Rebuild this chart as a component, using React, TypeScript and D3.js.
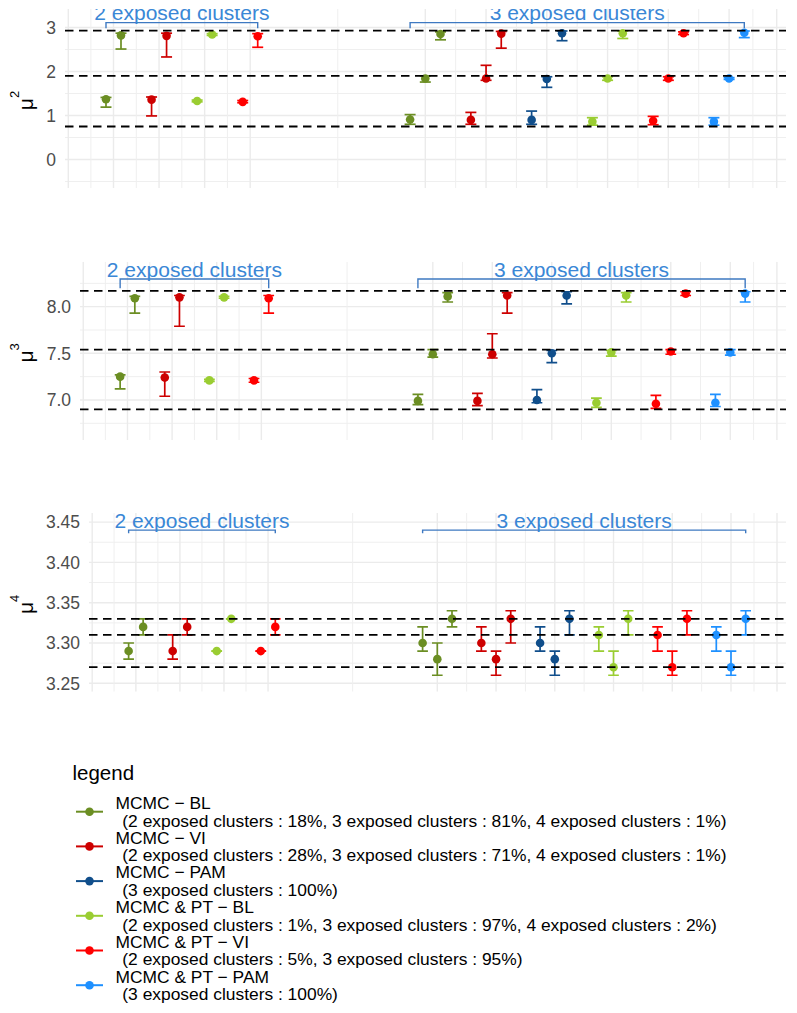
import React, { useEffect, useRef } from 'react';
import * as d3 from 'd3';

const methods = ['MCMC − BL', 'MCMC − VI', 'MCMC − PAM', 'MCMC & PT − BL', 'MCMC & PT − VI', 'MCMC & PT − PAM'];
const methodColors = ['#6B8E23', '#CD0000', '#104E8B', '#9ACD32', '#FF0000', '#1E90FF'];
const methodShares = [
  ' (2 exposed clusters : 18%, 3 exposed clusters : 81%, 4 exposed clusters : 1%)',
  ' (2 exposed clusters : 28%, 3 exposed clusters : 71%, 4 exposed clusters : 1%)',
  ' (3 exposed clusters : 100%)',
  ' (2 exposed clusters : 1%, 3 exposed clusters : 97%, 4 exposed clusters : 2%)',
  ' (2 exposed clusters : 5%, 3 exposed clusters : 95%)',
  ' (3 exposed clusters : 100%)',
];
const groupLabels = ['2 exposed clusters', '3 exposed clusters'];

// [method, exposed clusters, cluster, estimate, lower, upper]
type Row = [number, number, number, number, number, number];

const mu2Rows: Row[] = [
  [0, 2, 1, 1.37, 1.19, 1.41], [0, 2, 2, 2.82, 2.51, 2.87],
  [1, 2, 1, 1.36, 0.99, 1.42], [1, 2, 2, 2.81, 2.33, 2.87],
  [3, 2, 1, 1.33, 1.31, 1.35], [3, 2, 2, 2.84, 2.82, 2.86],
  [4, 2, 1, 1.31, 1.29, 1.34], [4, 2, 2, 2.80, 2.55, 2.86],
  [0, 3, 1, 0.91, 0.80, 1.02], [0, 3, 2, 1.84, 1.76, 1.90], [0, 3, 3, 2.85, 2.72, 2.90],
  [1, 3, 1, 0.90, 0.80, 1.07], [1, 3, 2, 1.84, 1.80, 2.14], [1, 3, 3, 2.86, 2.53, 2.91],
  [2, 3, 1, 0.90, 0.80, 1.10], [2, 3, 2, 1.83, 1.64, 1.88], [2, 3, 3, 2.87, 2.70, 2.92],
  [3, 3, 1, 0.86, 0.78, 0.95], [3, 3, 2, 1.84, 1.80, 1.88], [3, 3, 3, 2.87, 2.75, 2.92],
  [4, 3, 1, 0.88, 0.79, 0.98], [4, 3, 2, 1.84, 1.80, 1.88], [4, 3, 3, 2.87, 2.84, 2.90],
  [5, 3, 1, 0.86, 0.78, 0.95], [5, 3, 2, 1.84, 1.82, 1.86], [5, 3, 3, 2.88, 2.77, 2.92],
];

const mu3Rows: Row[] = [
  [0, 2, 1, 7.25, 7.12, 7.27], [0, 2, 2, 8.09, 7.93, 8.11],
  [1, 2, 1, 7.24, 7.04, 7.30], [1, 2, 2, 8.10, 7.79, 8.12],
  [3, 2, 1, 7.21, 7.20, 7.22], [3, 2, 2, 8.10, 8.09, 8.11],
  [4, 2, 1, 7.21, 7.19, 7.23], [4, 2, 2, 8.09, 7.93, 8.12],
  [0, 3, 1, 6.99, 6.95, 7.06], [0, 3, 2, 7.49, 7.46, 7.54], [0, 3, 3, 8.11, 8.05, 8.15],
  [1, 3, 1, 6.99, 6.94, 7.07], [1, 3, 2, 7.49, 7.45, 7.71], [1, 3, 3, 8.12, 7.93, 8.15],
  [2, 3, 1, 7.00, 6.97, 7.11], [2, 3, 2, 7.50, 7.40, 7.53], [2, 3, 3, 8.12, 8.03, 8.16],
  [3, 3, 1, 6.97, 6.92, 7.02], [3, 3, 2, 7.51, 7.47, 7.53], [3, 3, 3, 8.12, 8.05, 8.15],
  [4, 3, 1, 6.96, 6.91, 7.05], [4, 3, 2, 7.52, 7.49, 7.54], [4, 3, 3, 8.14, 8.12, 8.16],
  [5, 3, 1, 6.97, 6.93, 7.06], [5, 3, 2, 7.51, 7.48, 7.54], [5, 3, 3, 8.14, 8.05, 8.16],
];

const mu4Rows: Row[] = [
  [0, 2, 1, 3.29, 3.28, 3.30], [0, 2, 2, 3.32, 3.31, 3.33],
  [1, 2, 1, 3.29, 3.28, 3.31], [1, 2, 2, 3.32, 3.31, 3.33],
  [3, 2, 1, 3.29, 3.29, 3.29], [3, 2, 2, 3.33, 3.33, 3.33],
  [4, 2, 1, 3.29, 3.29, 3.29], [4, 2, 2, 3.32, 3.31, 3.33],
  [0, 3, 1, 3.30, 3.29, 3.32], [0, 3, 2, 3.28, 3.26, 3.30], [0, 3, 3, 3.33, 3.32, 3.34],
  [1, 3, 1, 3.30, 3.29, 3.32], [1, 3, 2, 3.28, 3.26, 3.29], [1, 3, 3, 3.33, 3.30, 3.34],
  [2, 3, 1, 3.30, 3.29, 3.32], [2, 3, 2, 3.28, 3.26, 3.29], [2, 3, 3, 3.33, 3.31, 3.34],
  [3, 3, 1, 3.31, 3.29, 3.32], [3, 3, 2, 3.27, 3.26, 3.29], [3, 3, 3, 3.33, 3.31, 3.34],
  [4, 3, 1, 3.31, 3.29, 3.32], [4, 3, 2, 3.27, 3.26, 3.29], [4, 3, 3, 3.33, 3.31, 3.34],
  [5, 3, 1, 3.31, 3.29, 3.32], [5, 3, 2, 3.27, 3.26, 3.29], [5, 3, 3, 3.33, 3.31, 3.34],
];

// true values (dashed reference lines)
const mu2Truth = [2.93, 1.9, 0.75];
const mu3Truth = [8.17, 7.54, 6.9];
const mu4Truth = [3.33, 3.31, 3.27];

const mu2Ticks = [0, 1, 2, 3];
const mu3Ticks = [7.0, 7.5, 8.0];
const mu4Ticks = [3.25, 3.3, 3.35, 3.4, 3.45];

// horizontal layout (dodge) in a shared x unit
const X_DOMAIN = [0, 721];
const PANEL_RIGHT = 786;
const groupLayout = {
  2: { center: 116.85, methods: [0, 1, 3, 4], step: 45.57, dodge: 15 },
  3: { center: 512.2, methods: [0, 1, 2, 3, 4, 5], step: 60.76, dodge: 15.2 },
};
const edgeBreaks = [3.3, 711.7];

const panels = [
  { rows: mu2Rows, truth: mu2Truth, ticks: mu2Ticks, fmt: d3.format('d'), sup: '2', left: 65, top: 9, bottom: 188, domain: [-0.648, 3.42], bracketY: 3.11, bracketTick: 0.13 },
  { rows: mu3Rows, truth: mu3Truth, ticks: mu3Ticks, fmt: d3.format('.1f'), sup: '3', left: 80, top: 261.7, bottom: 440, domain: [6.571, 8.482], bracketY: 8.297, bracketTick: 0.1 },
  { rows: mu4Rows, truth: mu4Truth, ticks: mu4Ticks, fmt: d3.format('.2f'), sup: '4', left: 89, top: 513, bottom: 691.7, domain: [3.2396, 3.4613], bracketY: 3.44, bracketTick: 0.0037 },
];

const FONT = "'Liberation Sans', Arial, Helvetica, sans-serif";

const xPos = (method: number, k: number, cluster: number) => {
  const lay = groupLayout[k];
  const slot = lay.methods.indexOf(method);
  return lay.center + (slot - (lay.methods.length - 1) / 2) * lay.step + (cluster - (k + 1) / 2) * lay.dodge;
};

const methodCenters = (k: number) => {
  const lay = groupLayout[k];
  return lay.methods.map((_, s) => lay.center + (s - (lay.methods.length - 1) / 2) * lay.step);
};

const App = () => {
  const svgRef = useRef<SVGSVGElement>(null);

  useEffect(() => {
    const svg = d3.select(svgRef.current);
    svg.selectAll('*').remove();
    const defs = svg.append('defs');

    panels.forEach((p, pi) => {
      const x = d3.scaleLinear().domain(X_DOMAIN).range([p.left, PANEL_RIGHT]);
      const y = d3.scaleLinear().domain(p.domain).range([p.bottom, p.top]);
      const clipId = `panel-clip-${pi}`;
      defs.append('clipPath').attr('id', clipId)
        .append('rect')
        .attr('x', p.left).attr('y', p.top)
        .attr('width', PANEL_RIGHT - p.left).attr('height', p.bottom - p.top);

      const g = svg.append('g').attr('clip-path', `url(#${clipId})`);

      // grid: y
      const step = p.ticks[1] - p.ticks[0];
      const yMinor: number[] = [];
      for (let v = p.ticks[0] - step / 2; v <= p.domain[1]; v += step) {
        if (v >= p.domain[0]) yMinor.push(v);
      }
      g.selectAll('.ymin').data(yMinor).enter().append('line')
        .attr('x1', p.left).attr('x2', PANEL_RIGHT)
        .attr('y1', (d) => y(d)).attr('y2', (d) => y(d))
        .attr('stroke', '#EFEFEF').attr('stroke-width', 1);
      g.selectAll('.ymaj').data(p.ticks).enter().append('line')
        .attr('x1', p.left).attr('x2', PANEL_RIGHT)
        .attr('y1', (d) => y(d)).attr('y2', (d) => y(d))
        .attr('stroke', '#EBEBEB').attr('stroke-width', 1.4);

      // grid: x
      const xMajor = [...edgeBreaks, ...methodCenters(2), ...methodCenters(3)].sort((a, b) => a - b);
      const xMinor = xMajor.slice(1).map((v, i) => (v + xMajor[i]) / 2);
      g.selectAll('.xmin').data(xMinor).enter().append('line')
        .attr('x1', (d) => x(d)).attr('x2', (d) => x(d))
        .attr('y1', p.top).attr('y2', p.bottom)
        .attr('stroke', '#EFEFEF').attr('stroke-width', 1);
      g.selectAll('.xmaj').data(xMajor).enter().append('line')
        .attr('x1', (d) => x(d)).attr('x2', (d) => x(d))
        .attr('y1', p.top).attr('y2', p.bottom)
        .attr('stroke', '#EBEBEB').attr('stroke-width', 1.4);

      // error bars
      const cap = 5.5;
      const bars = g.selectAll('.eb').data(p.rows).enter().append('g')
        .attr('stroke', (d) => methodColors[d[0]])
        .attr('stroke-width', 1.7)
        .attr('fill', 'none');
      bars.append('line')
        .attr('x1', (d) => x(xPos(d[0], d[1], d[2]))).attr('x2', (d) => x(xPos(d[0], d[1], d[2])))
        .attr('y1', (d) => y(d[4])).attr('y2', (d) => y(d[5]));
      bars.append('line')
        .attr('x1', (d) => x(xPos(d[0], d[1], d[2]) - cap)).attr('x2', (d) => x(xPos(d[0], d[1], d[2]) + cap))
        .attr('y1', (d) => y(d[4])).attr('y2', (d) => y(d[4]));
      bars.append('line')
        .attr('x1', (d) => x(xPos(d[0], d[1], d[2]) - cap)).attr('x2', (d) => x(xPos(d[0], d[1], d[2]) + cap))
        .attr('y1', (d) => y(d[5])).attr('y2', (d) => y(d[5]));

      // points
      g.selectAll('.pt').data(p.rows).enter().append('circle')
        .attr('cx', (d) => x(xPos(d[0], d[1], d[2])))
        .attr('cy', (d) => y(d[3]))
        .attr('r', 4.3)
        .attr('fill', (d) => methodColors[d[0]]);

      // true values
      g.selectAll('.truth').data(p.truth).enter().append('line')
        .attr('x1', p.left).attr('x2', PANEL_RIGHT)
        .attr('y1', (d) => y(d)).attr('y2', (d) => y(d))
        .attr('stroke', '#000').attr('stroke-width', 1.8)
        .attr('stroke-dasharray', '8.5 5.5');

      // brackets
      [2, 3].forEach((k, gi) => {
        const xs = p.rows.filter((r) => r[1] === k).map((r) => xPos(r[0], r[1], r[2]));
        const x0 = x(d3.min(xs)), x1 = x(d3.max(xs));
        const yb = y(p.bracketY), yt = y(p.bracketY - p.bracketTick);
        g.append('path')
          .attr('d', `M${x0},${yt}L${x0},${yb}L${x1},${yb}L${x1},${yt}`)
          .attr('fill', 'none').attr('stroke', '#3E79C1').attr('stroke-width', 1.4);
        g.append('text')
          .attr('x', (x0 + x1) / 2).attr('y', yb - 2.3)
          .attr('text-anchor', 'middle')
          .attr('font-family', FONT).attr('font-size', 21)
          .attr('fill', '#3A87D6')
          .text(groupLabels[gi]);
      });

      // y axis labels
      svg.selectAll(`.ylab${pi}`).data(p.ticks).enter().append('text')
        .attr('x', p.left - 9).attr('y', (d) => y(d)).attr('dy', '0.36em')
        .attr('text-anchor', 'end')
        .attr('font-family', FONT).attr('font-size', 17.5)
        .attr('fill', '#4D4D4D')
        .text((d) => p.fmt(d));

      // y axis title
      const cy = (p.top + p.bottom) / 2 + 2;
      const title = svg.append('text')
        .attr('transform', `translate(32.5,${cy}) rotate(-90)`)
        .attr('text-anchor', 'middle')
        .attr('font-family', FONT).attr('font-size', 21)
        .attr('fill', '#000');
      title.append('tspan').text('μ');
      title.append('tspan').attr('dy', -13.5).attr('font-size', 13).text(p.sup);
    });

    // legend
    const lg = svg.append('g');
    lg.append('text')
      .attr('x', 72.5).attr('y', 779.5)
      .attr('font-family', FONT).attr('font-size', 20.5)
      .text('legend');
    const rowH = 34.7;
    const items = lg.selectAll('.item').data(methods).enter().append('g')
      .attr('transform', (_, i) => `translate(0,${i * rowH})`);
    items.append('line')
      .attr('x1', 76).attr('x2', 103).attr('y1', 811.7).attr('y2', 811.7)
      .attr('stroke', (_, i) => methodColors[i]).attr('stroke-width', 2);
    items.append('circle')
      .attr('cx', 89.5).attr('cy', 811.7).attr('r', 4.3)
      .attr('fill', (_, i) => methodColors[i]);
    items.append('text')
      .attr('x', 115.5).attr('y', 809)
      .attr('font-family', FONT).attr('font-size', 17.4)
      .text((d) => d);
    items.append('text')
      .attr('x', 117.5).attr('y', 826.7)
      .attr('font-family', FONT).attr('font-size', 17.4)
      .style('white-space', 'pre')
      .text((_, i) => methodShares[i]);
  }, []);

  return (
    <svg
      ref={svgRef}
      width={797}
      height={1013}
      style={{ position: 'absolute', left: 0, top: 0, background: '#fff' }}
    />
  );
};

export default App;
